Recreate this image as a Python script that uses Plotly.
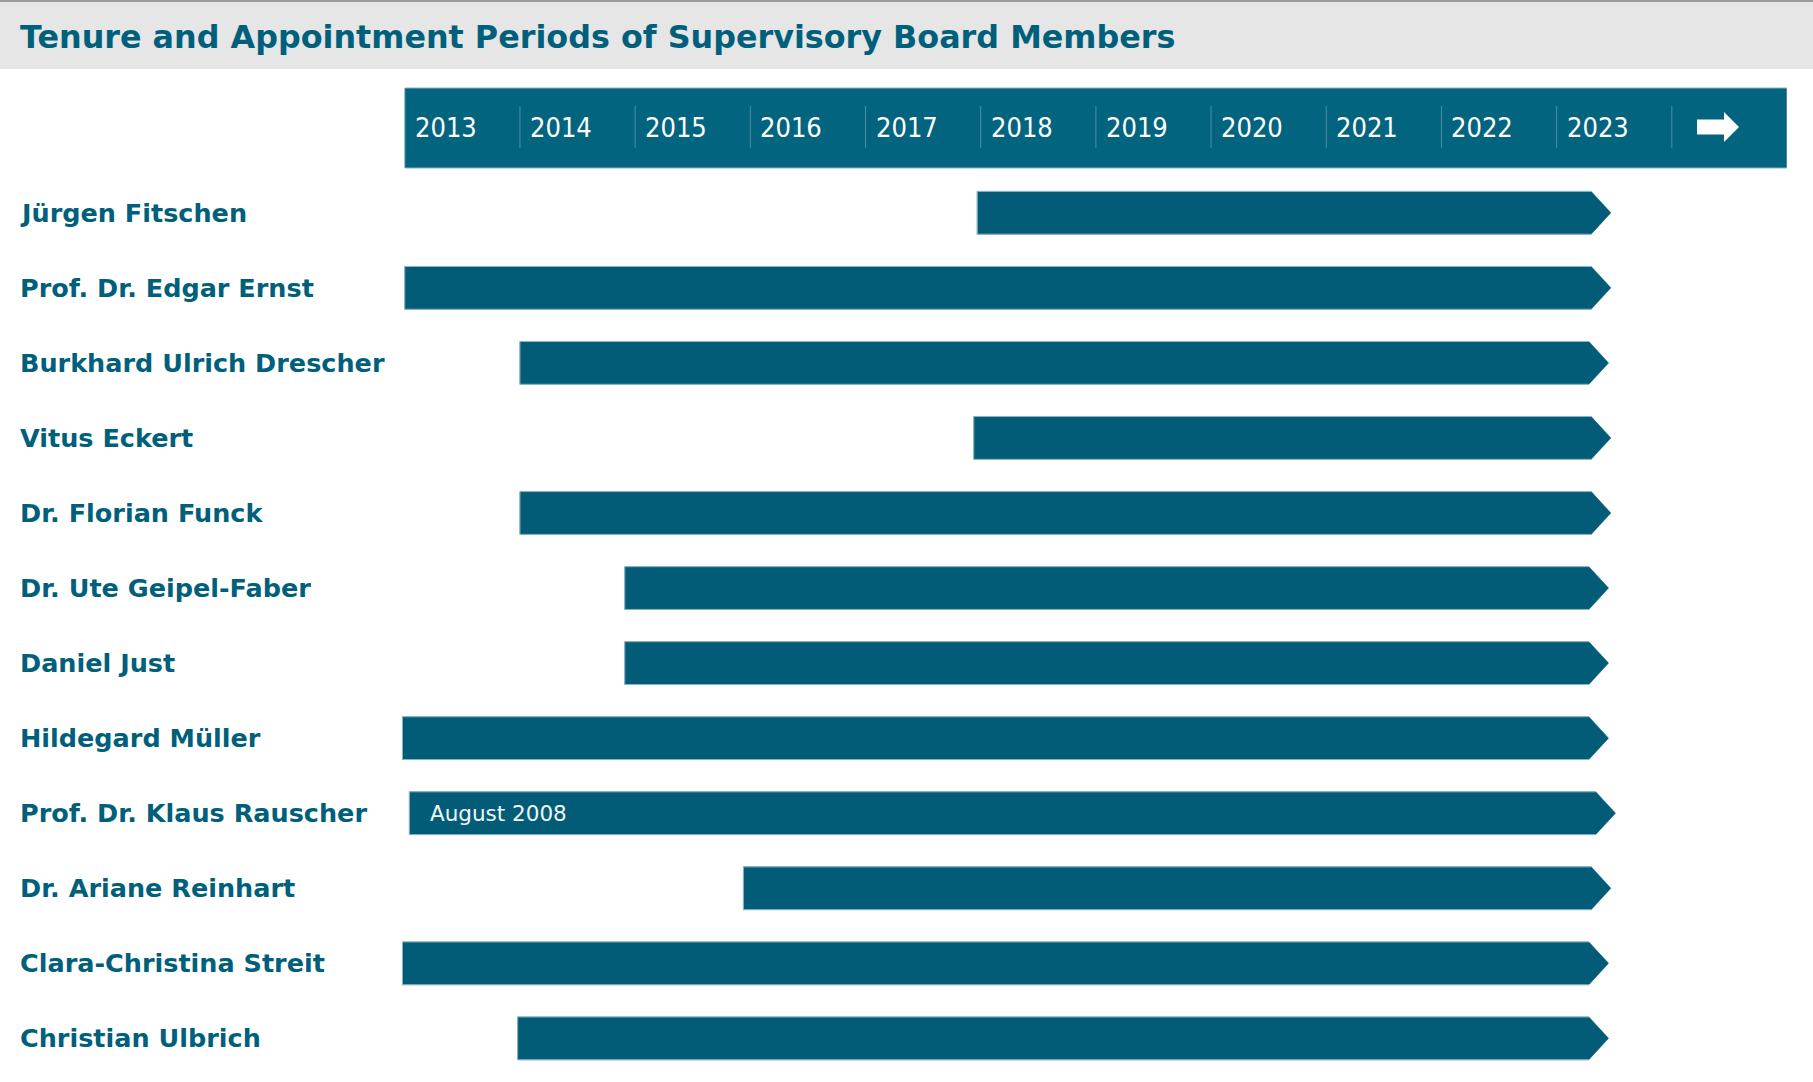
import plotly.graph_objects as go

# ---------------- data ----------------
members = [
    "Jürgen Fitschen",
    "Prof. Dr. Edgar Ernst",
    "Burkhard Ulrich Drescher",
    "Vitus Eckert",
    "Dr. Florian Funck",
    "Dr. Ute Geipel-Faber",
    "Daniel Just",
    "Hildegard Müller",
    "Prof. Dr. Klaus Rauscher",
    "Dr. Ariane Reinhart",
    "Clara-Christina Streit",
    "Christian Ulbrich",
]
start_year = [2017.97, 2013.00, 2014.00, 2017.94, 2014.00, 2014.91,
              2014.91, 2012.98, 2013.04, 2015.94, 2012.98, 2013.98]
end_year = [2023.30, 2023.30, 2023.28, 2023.30, 2023.30, 2023.28,
            2023.28, 2023.28, 2023.34, 2023.30, 2023.28, 2023.28]
bar_notes = ["", "", "", "", "", "", "", "", "August 2008", "", "", ""]
years = [2013, 2014, 2015, 2016, 2017, 2018, 2019, 2020, 2021, 2022, 2023]
year_labels = ["2013", "2014", "2015", "2016", "2017", "2018",
               "2019", "2020", "2021", "2022", "2023"]

# ---------------- layout constants ----------------
W, H = 1813, 1082
L, R = 399, 26
PLOT_W = W - L - R
X_MIN, X_MAX = 2012.95, 2025.0
ROW0_PX, ROW_PX = 212.8, 75.05
HALF = 0.285
TIP = 0.171

TEAL = "#025c78"
HEAD = "#02647f"
TXT = "#00607c"
EDGE = "#8fb5c4"


def px_x(p):
    return X_MIN + (p - L) * (X_MAX - X_MIN) / PLOT_W


def paper_x(p):
    return (p - L) / PLOT_W


def paper_y(p):
    return 1 - p / H


fig = go.Figure()

for i, (name, s, e) in enumerate(zip(members, start_year, end_year)):
    fig.add_trace(go.Scatter(
        x=[s, e, e + TIP, e, s, s],
        y=[i - HALF, i - HALF, i, i + HALF, i + HALF, i - HALF],
        mode="lines", fill="toself", fillcolor=TEAL,
        line=dict(color=TEAL, width=0.5),
        hoverinfo="text", text=name, showlegend=False,
    ))
    fig.add_trace(go.Scatter(
        x=[e, s, s, e],
        y=[i - HALF, i - HALF, i + HALF, i + HALF],
        mode="lines", line=dict(color=EDGE, width=1),
        hoverinfo="skip", showlegend=False,
    ))

shapes = []
# title band
shapes.append(dict(type="rect", xref="paper", yref="paper",
                   x0=paper_x(0), x1=paper_x(W), y0=paper_y(69), y1=paper_y(0),
                   fillcolor="#e6e6e6", line=dict(width=0), layer="below"))
shapes.append(dict(type="line", xref="paper", yref="paper",
                   x0=paper_x(0), x1=paper_x(W), y0=paper_y(1), y1=paper_y(1),
                   line=dict(color="#9a9a9a", width=2)))
# header band
shapes.append(dict(type="rect", xref="x", yref="paper",
                   x0=years[0], x1=years[-1] + 2, y0=paper_y(168), y1=paper_y(88),
                   fillcolor=HEAD, line=dict(color=EDGE, width=1), layer="below"))
# separators
for yv in years[1:] + [years[-1] + 1]:
    shapes.append(dict(type="line", xref="x", yref="paper",
                       x0=yv, x1=yv, y0=paper_y(148), y1=paper_y(106),
                       line=dict(color="#4e8ea6", width=1)))
# arrow in last column
ax0, ax1, axh = px_x(1697), px_x(1739), px_x(1724)
yc = 127
path = (f"M {ax0},{paper_y(yc-7.5)} L {axh},{paper_y(yc-7.5)} L {axh},{paper_y(yc-15)} "
        f"L {ax1},{paper_y(yc)} L {axh},{paper_y(yc+15)} L {axh},{paper_y(yc+7.5)} "
        f"L {ax0},{paper_y(yc+7.5)} Z")
shapes.append(dict(type="path", xref="x", yref="paper", path=path,
                   fillcolor="white", line=dict(width=0)))

annotations = []
annotations.append(dict(
    text="Tenure and Appointment Periods of Supervisory Board Members",
    xref="paper", yref="paper", x=paper_x(18), y=paper_y(37),
    xanchor="left", yanchor="middle", showarrow=False,
    font=dict(family="DejaVu Sans", size=31.8, color=TXT, weight="bold")))
for yv, lab in zip(years, year_labels):
    annotations.append(dict(
        text=lab, xref="x", yref="paper", x=yv, y=paper_y(128),
        xanchor="left", yanchor="middle", xshift=8, showarrow=False,
        font=dict(family="DejaVu Sans Condensed", size=27, color="white")))
for i, name in enumerate(members):
    annotations.append(dict(
        text=name, xref="paper", yref="y", x=paper_x(18), y=i,
        xanchor="left", yanchor="middle", showarrow=False,
        font=dict(family="DejaVu Sans", size=25.5, color=TXT, weight="bold")))
for i, (note, s) in enumerate(zip(bar_notes, start_year)):
    if note:
        annotations.append(dict(
            text=note, xref="x", yref="y", x=s, y=i,
            xanchor="left", yanchor="middle", xshift=19, showarrow=False,
            font=dict(family="DejaVu Sans", size=21.5, color="#f2f6f8")))

fig.update_layout(
    width=W, height=H,
    margin=dict(l=L, r=R, t=0, b=0, pad=0, autoexpand=False),
    paper_bgcolor="white", plot_bgcolor="white",
    xaxis=dict(range=[X_MIN, X_MAX], visible=False, fixedrange=True),
    yaxis=dict(range=[(H - ROW0_PX) / ROW_PX, -ROW0_PX / ROW_PX], visible=False, fixedrange=True),
    shapes=shapes, annotations=annotations, showlegend=False,
)

fig.write_html(
    "out.html",
    config={"displayModeBar": False},
    post_script="document.body.style.margin='0';document.body.style.overflow='hidden';",
)
